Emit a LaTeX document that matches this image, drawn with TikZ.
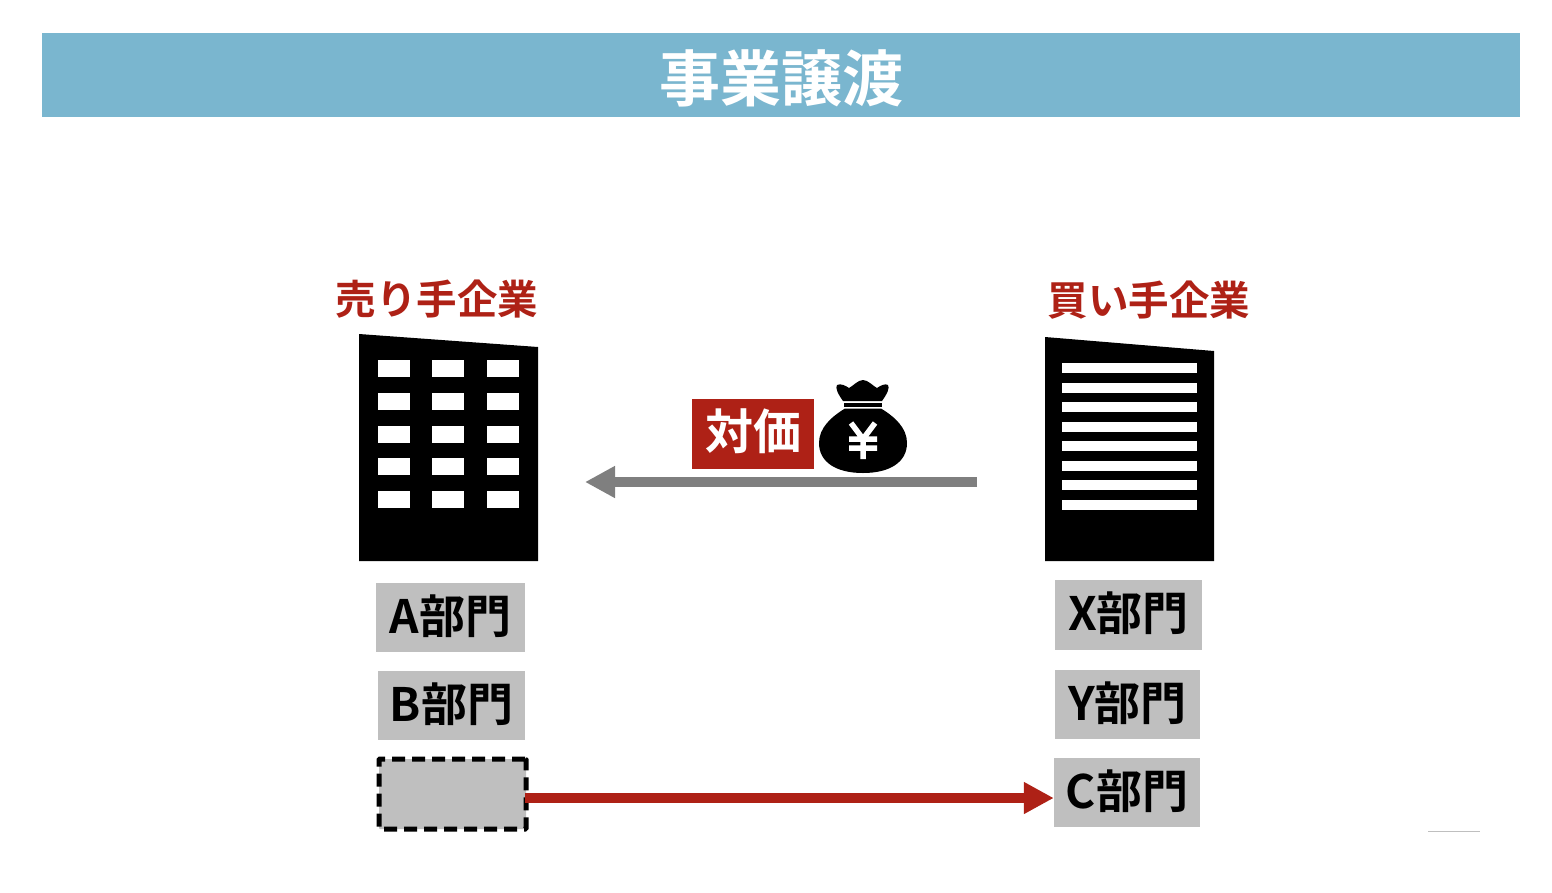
\documentclass[tikz,border=0pt]{standalone}
\usepackage{fontspec}
\setmainfont{Noto Sans CJK JP}[BoldFont={Noto Sans CJK JP Bold}]
\usetikzlibrary{arrows.meta}
\definecolor{bandblue}{HTML}{7AB6CF}
\definecolor{dealred}{HTML}{AE2116}
\definecolor{deptgray}{HTML}{BFBFBF}
\definecolor{paygray}{HTML}{7F7F7F}
\begin{document}
\begin{tikzpicture}[
                x=1pt,y=-1pt,
                every node/.style={inner sep=0pt,font=\bfseries},
                dept/.style={fill=deptgray,text=black,text height=36pt,text depth=5pt,
                    font=\bfseries\fontsize{46}{46}\selectfont},
                party/.style={text=dealred,font=\bfseries\fontsize{40.5}{41}\selectfont},
                arrowline/.style={line width=10pt}
            ]
            \useasboundingbox (0,0) rectangle (1552,892);

            % title
            \node[fill=bandblue,text=white,minimum width=1478pt,minimum height=84pt,
                text height=60pt,text depth=8pt,
                font=\bfseries\fontsize{61}{61}\selectfont] (title) at (781,75) {事業譲渡};

            \node[party] (seller) at (437,299) {売り手企業};
            \node[party] (buyer) at (1149,300) {買い手企業};

            % buildings
            \fill (359,334) -- (538,347) -- (538,561) -- (359,561) -- cycle;
            \foreach \x in {378,432,487}
                \foreach \y in {360,393,426,458,491}
                    \fill[white] (\x,\y) rectangle +(31.5,17);

            \fill (1045,337) -- (1214,351) -- (1214,561) -- (1045,561) -- cycle;
            \foreach \y in {363,382.5,402,421.5,441,460.5,480,499.5}
                \fill[white] (1062,\y) rectangle +(135,10);

            % payment
            \node[fill=dealred,text=white,minimum width=122pt,minimum height=70pt,
                text height=38pt,text depth=8pt,
                font=\bfseries\fontsize{48}{48}\selectfont] (price) at (753,434) {対価};

            \fill (843,401) .. controls (838,394) and (835,388) .. (837,385)
                .. controls (841,383) and (846,386) .. (849,388)
                .. controls (853,386) and (858,380) .. (863,380)
                .. controls (868,380) and (873,386) .. (877,388)
                .. controls (880,386) and (885,383) .. (888,385)
                .. controls (890,388) and (887,394) .. (882,401) -- cycle;
            \fill (844,403) rectangle (882,406.5);
            \fill (845,408.5) -- (881,408.5)
                .. controls (895,417) and (907,428) .. (907,443)
                .. controls (907,462) and (890,473) .. (863,473)
                .. controls (836,473) and (819,462) .. (819,443)
                .. controls (819,428) and (831,417) .. (845,408.5) -- cycle;
            \draw[white,line width=5.5pt] (851,423) -- (863,439) -- (875,423)
                (863,439) -- (863,459) (849,439) -- (877,439) (849,448) -- (877,448);

            % departments
            \node[dept,minimum width=149pt,minimum height=69pt] (depta) at (450.5,617.5) {A部門};
            \node[dept,minimum width=147pt,minimum height=69pt] (deptb) at (451.5,705.5) {B部門};
            \node[fill=deptgray,draw=black,line width=5pt,dash pattern=on 13pt off 7pt,
                rounded corners=1pt,outer sep=0pt,
                minimum width=147pt,minimum height=70pt] (vacant) at (452.5,794) {};
            \node[dept,minimum width=147pt,minimum height=70pt] (deptx) at (1128.5,615) {X部門};
            \node[dept,minimum width=145pt,minimum height=69pt] (depty) at (1127.5,704.5) {Y部門};
            \node[dept,minimum width=146pt,minimum height=69pt] (deptc) at (1127,792.5) {C部門};

            % flows
            \coordinate (payfrom) at (977,482);
            \coordinate (payto) at (585,482);
            \draw[arrowline,paygray,-{Triangle[length=30pt,width=30pt]}] (payfrom) -- (payto);
            \draw[arrowline,dealred,-{Triangle[length=30pt,width=30pt]}]
                ([xshift=-1pt,yshift=-4pt]vacant.east) -- (deptc.west |- 0,798);

            \coordinate (rulefrom) at (1428,831);
            \coordinate (ruleto) at (1480,831);
            \draw[deptgray,line width=0.75pt] (rulefrom) -- (ruleto);
        \end{tikzpicture}
\end{document}
